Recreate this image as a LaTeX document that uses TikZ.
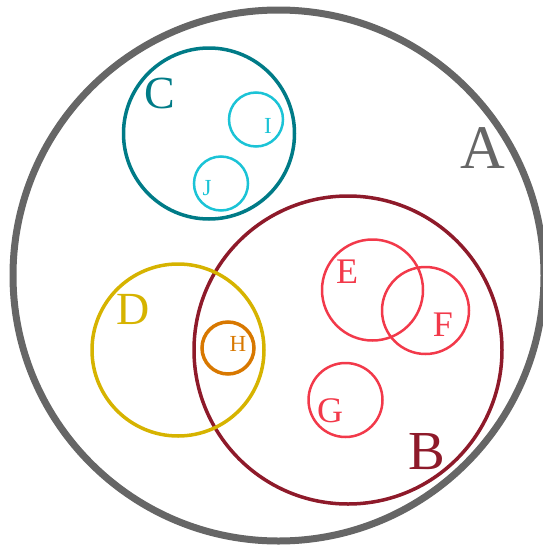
\documentclass[tikz,border=0pt]{standalone}
\usepackage{fontspec}
\setmainfont{Liberation Serif}
\definecolor{cgrey}{HTML}{666666}
\definecolor{cteal}{HTML}{007B87}
\definecolor{ccyan}{HTML}{1BC3D6}
\definecolor{cwine}{HTML}{8E1A2A}
\definecolor{cgold}{HTML}{D6B300}
\definecolor{corange}{HTML}{D87800}
\definecolor{cred}{HTML}{F2394A}
\tikzset{
  ring/.style={circle, draw=#1, inner sep=0pt, outer sep=0pt},
  tag/.style={text=#1, inner sep=0pt},
  huge/.style={font=\fontsize{62}{66}\selectfont},
  big/.style={font=\fontsize{55}{60}\selectfont},
  mid/.style={font=\fontsize{46}{50}\selectfont},
  small/.style={font=\fontsize{36}{40}\selectfont},
  tiny/.style={font=\fontsize{23}{26}\selectfont},
}
\begin{document}
\begin{tikzpicture}[x=1pt, y=-1pt]
  \useasboundingbox (0,0) rectangle (543,549);
  \clip (0,0) rectangle (543,549);
  % the sets, drawn to the picture's pixel grid
  \node[ring=cgrey, line width=7pt, minimum size=531pt] (A) at (278.5,275.5) {};
  \node[ring=cteal, line width=3.5pt, minimum size=171pt] (C) at (209,133.5) {};
  \node[ring=ccyan, line width=2.5pt, minimum size=54pt] (I) at (256,119.5) {};
  \node[ring=ccyan, line width=2.5pt, minimum size=54pt] (J) at (221,183.5) {};
  \node[ring=cwine, line width=3.5pt, minimum size=308pt] (B) at (348,350) {};
  \node[ring=cgold, line width=3.5pt, minimum size=172pt] (D) at (178,350) {};
  \node[ring=corange, line width=3.5pt, minimum size=52pt] (H) at (228,348) {};
  \node[ring=cred, line width=2.5pt, minimum size=101pt] (E) at (372.5,290) {};
  \node[ring=cred, line width=2.5pt, minimum size=87pt] (F) at (425.5,310.5) {};
  \node[ring=cred, line width=2.5pt, minimum size=74pt] (G) at (345.5,400) {};
  % labels
  \node[tag=cgrey, huge] (lA) at (483,148) {A};
  \node[tag=cwine, big] (lB) at (427,452) {B};
  \node[tag=cteal, mid] (lC) at (160,93) {C};
  \node[tag=cgold, mid] (lD) at (133,309) {D};
  \node[tag=cred, small] (lE) at (347,272) {E};
  \node[tag=cred, small] (lF) at (443,325) {F};
  \node[tag=cred, small] (lG) at (330,411) {G};
  \node[tag=corange, tiny] (lH) at (238,344) {H};
  \node[tag=ccyan, tiny] (lI) at (268,126) {I};
  \node[tag=ccyan, tiny] (lJ) at (207,188) {J};
\end{tikzpicture}
\end{document}
